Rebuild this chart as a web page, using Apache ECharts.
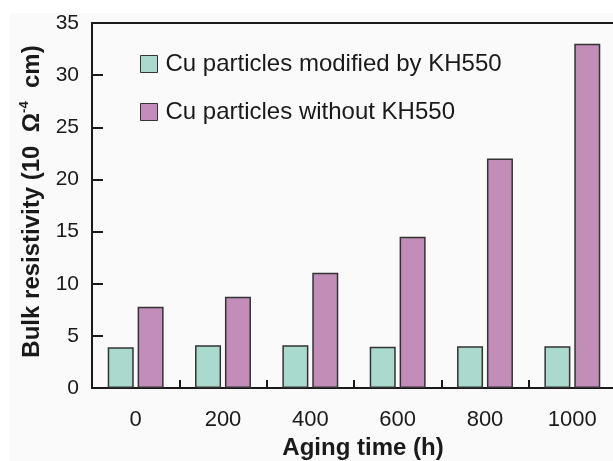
<!DOCTYPE html>
<html>
<head>
<meta charset="utf-8">
<script src="https://cdn.jsdelivr.net/npm/echarts@6/dist/echarts.min.js"></script>
<style>
  html, body { margin: 0; padding: 0; background: #ffffff; }
  #chart { width: 613px; height: 461px; }
</style>
</head>
<body>
<div id="chart"></div>
<script>
// Aging time categories (h)
const agingTimes = ['0', '200', '400', '600', '800', '1000'];
// Bulk resistivity, 10^-4 Ω·cm
const modifiedKH550 = [3.9, 4.1, 4.1, 3.95, 4.0, 4.0];
const withoutKH550 = [7.8, 8.75, 11.05, 14.5, 22.0, 33.0];
const seriesNames = ['Cu particles modified by KH550', 'Cu particles without KH550'];
const yTicks = { min: 0, max: 35, interval: 5 };

const chart = echarts.init(document.getElementById('chart'), null, { renderer: 'canvas' });
const FONT = 'Liberation Sans, Arial, sans-serif';
const AXIS = '#1a1a1a';
const TEXT = '#1a1a1a';

chart.setOption({
  animation: false,
  backgroundColor: '#ffffff',
  graphic: [{
    type: 'rect', z: -10, silent: true,
    shape: { x: 10, y: 13, width: 603, height: 448 },
    style: { fill: '#fafafa' }
  }],
  // plot area runs slightly past the right edge of the canvas
  grid: { left: 92, width: 524, top: 23, bottom: 73, containLabel: false, outerBoundsMode: 'none' },
  legend: {
    orient: 'vertical',
    left: 140, top: 52,
    padding: 0,
    itemWidth: 17, itemHeight: 17, itemGap: 24,
    icon: 'rect',
    itemStyle: { borderColor: '#333333', borderWidth: 1 },
    textStyle: { fontFamily: FONT, fontSize: 24, color: TEXT, padding: [0, 0, 0, 3] },
    data: seriesNames
  },
  xAxis: [{
    type: 'category',
    data: agingTimes,
    position: 'bottom',
    name: 'Aging time (h)',
    nameLocation: 'middle',
    nameGap: 48,
    nameTextStyle: { fontFamily: FONT, fontSize: 24, fontWeight: 'bold', color: TEXT, padding: [0, 0, 0, 18] },
    axisLine: { lineStyle: { color: AXIS, width: 2 } },
    axisTick: { show: true, inside: true, length: 8, alignWithLabel: false, lineStyle: { color: AXIS, width: 2 } },
    axisLabel: { fontFamily: FONT, fontSize: 22, color: TEXT, margin: 21 }
  }, {
    type: 'category',
    data: agingTimes,
    position: 'top',
    axisLine: { show: true, lineStyle: { color: AXIS, width: 2 } },
    axisTick: { show: false },
    axisLabel: { show: false }
  }],
  yAxis: {
    type: 'value',
    min: yTicks.min, max: yTicks.max, interval: yTicks.interval,
    name: '{a|Bulk resistivity (10  Ω}{s|-4}{a|  cm)}',
    nameLocation: 'middle',
    nameGap: 44,
    nameTextStyle: {
      padding: [0, 0, 0, 8],
      rich: {
        a: { fontFamily: FONT, fontSize: 24, fontWeight: 'bold', color: TEXT },
        s: { fontFamily: FONT, fontSize: 13, fontWeight: 'bold', color: TEXT, padding: [0, 0, 17, 0] }
      }
    },
    axisLine: { show: true, lineStyle: { color: AXIS, width: 2 } },
    axisTick: { show: true, inside: true, length: 11, lineStyle: { color: AXIS, width: 2 } },
    axisLabel: { fontFamily: FONT, fontSize: 21, color: TEXT, margin: 13 },
    splitLine: { show: false }
  },
  series: [{
    name: seriesNames[0],
    type: 'bar',
    data: modifiedKH550,
    barWidth: 26,
    barGap: '15%',
    itemStyle: { color: '#aad9cd', borderColor: '#333333', borderWidth: 1.5 }
  }, {
    name: seriesNames[1],
    type: 'bar',
    data: withoutKH550,
    barWidth: 26,
    barGap: '15%',
    itemStyle: { color: '#c28db8', borderColor: '#333333', borderWidth: 1.5 }
  }]
});
</script>
</body>
</html>
